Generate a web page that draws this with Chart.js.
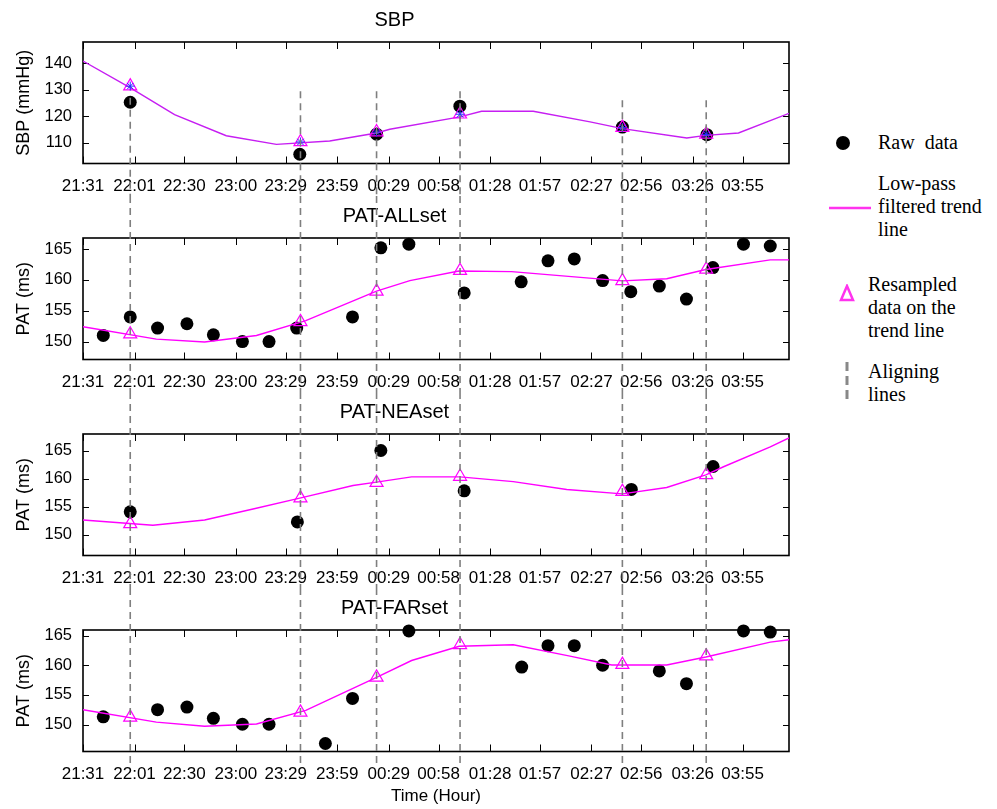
<!DOCTYPE html>
<html>
<head>
<meta charset="utf-8">
<script src="https://cdn.jsdelivr.net/npm/chart.js@4/dist/chart.umd.min.js"></script>
<style>
  body { margin: 0; background: #fff; }
  #wrap { position: relative; width: 997px; height: 809px; overflow: hidden; }
  canvas { position: absolute; left: 0; }
  #legend { position: absolute; left: 0; top: 0; font-family: 'Liberation Serif', 'Times New Roman', serif; font-size: 20px; color: #000; }
  #legend .txt { position: absolute; line-height: 23px; white-space: pre; }
  #legend svg { position: absolute; }
</style>
</head>
<body>
<div id="wrap">
  <canvas id="c1" width="800" height="196" style="top:0"></canvas>
  <canvas id="c2" width="800" height="196" style="top:196px"></canvas>
  <canvas id="c3" width="800" height="196" style="top:392px"></canvas>
  <canvas id="c4" width="800" height="221" style="top:588px"></canvas>
  <div id="legend">
    <svg style="left:835px;top:135px" width="16" height="16"><circle cx="8" cy="8" r="7" fill="#000"/></svg>
    <div class="txt" style="left:878px;top:131px">Raw  data</div>
    <svg style="left:829px;top:206px" width="42" height="4"><line x1="0" y1="2" x2="42" y2="2" stroke="#ff33ee" stroke-width="2.5"/></svg>
    <div class="txt" style="left:878px;top:172px">Low-pass
filtered trend
line</div>
    <svg style="left:838px;top:284px" width="18" height="18"><polygon points="9,2 15,16 3,16" fill="none" stroke="#ff33ee" stroke-width="2.5"/></svg>
    <div class="txt" style="left:868px;top:273px">Resampled
data on the
trend line</div>
    <svg style="left:843px;top:360px" width="8" height="42"><line x1="4" y1="2" x2="4" y2="40" stroke="#888" stroke-width="3" stroke-dasharray="9,5"/></svg>
    <div class="txt" style="left:868px;top:360px">Aligning
lines</div>
  </div>
</div>
<script>
// x values are minutes after 21:31
const tickMinutes = [0, 30, 59, 89, 118, 148, 178, 207, 237, 266, 296, 325, 355, 384];
const tickLabels = ['21:31','22:01','22:30','23:00','23:29','23:59','00:29','00:58','01:28','01:57','02:27','02:56','03:26','03:55'];
const alignMinutes = [27.5, 126.6, 170.9, 219.5, 314, 362.8];
const alignTopSbp = [127, 129.5, 129.5, 129.5, 126, 126];

// SBP
const sbpRawX = [27.5, 126.2, 170.9, 219.4, 314, 363.2];
const sbpRawY = [125.3, 105.6, 113.2, 123.8, 115.9, 113.0];
const sbpTrendX = [0, 27.1, 53.3, 83.4, 112.6, 143.6, 170.9, 178.6, 219.4, 232, 262.1, 295.2, 314, 351.5, 362.6, 381.6, 411];
const sbpTrendY = [140.9, 130.9, 120.6, 112.6, 109.35, 110.6, 113.65, 115.05, 119.75, 121.9, 121.9, 117.85, 115.3, 111.75, 112.75, 113.65, 121.1];
const sbpResY = [131.4, 110.25, 114.0, 120.75, 115.7, 113.15];

// PAT-ALLset
const allRawX = [11.8, 27.5, 43.4, 60.5, 75.9, 92.8, 108.3, 124.4, 156.9, 173.4, 189.7, 221.9, 255.1, 270.7, 286.0, 302.5, 318.9, 335.5, 351.3, 366.7, 384.5, 400.1];
const allRawY = [151.0, 154.0, 152.2, 152.9, 151.1, 150.0, 150.0, 152.2, 154.0, 165.2, 165.8, 157.9, 159.7, 163.1, 163.4, 159.9, 158.1, 159.0, 156.9, 162.0, 165.8, 165.5];
const allTrendX = [0, 42.7, 70.8, 101, 129.7, 170.9, 190.3, 218.8, 249.5, 314, 339.8, 362.6, 400.1, 411];
const allTrendY = [152.4, 150.4, 149.95, 151.0, 153.4, 158.2, 159.9, 161.45, 161.35, 159.85, 160.2, 161.7, 163.25, 163.25];
const allResY = [151.2, 153.2, 158.15, 161.5, 159.85, 161.7];

// PAT-NEAset
const neaRawX = [27.5, 124.8, 173.4, 221.9, 319.2, 366.8];
const neaRawY = [154.1, 152.3, 165.05, 157.85, 158.1, 162.2];
const neaTrendX = [0, 40.7, 70.8, 99, 126.2, 157.2, 170.9, 191.3, 219.4, 250.5, 281.6, 314, 339.8, 362.6, 372.9, 400.1, 411];
const neaTrendY = [152.65, 151.7, 152.65, 154.6, 156.55, 158.8, 159.4, 160.35, 160.35, 159.5, 158.1, 157.3, 158.45, 160.7, 162.15, 165.7, 167.3];
const neaResY = [151.95, 156.55, 159.3, 160.4, 157.7, 160.7];

// PAT-FARset
const farRawX = [11.8, 43.4, 60.5, 75.9, 92.8, 108.3, 141.1, 156.9, 189.7, 255.4, 270.7, 286, 302.5, 335.5, 351.3, 384.5, 400.1];
const farRawY = [151.3, 152.5, 152.95, 151.05, 150.05, 150.05, 146.8, 154.4, 165.8, 159.7, 163.3, 163.3, 160.0, 159.05, 156.9, 165.8, 165.6];
const farTrendX = [0, 42.7, 70.8, 101, 129.7, 170.9, 191.3, 219, 250.5, 283.5, 307.8, 339.8, 362.6, 400.1, 411];
const farTrendY = [152.5, 150.4, 149.7, 150.1, 152.4, 157.95, 160.8, 163.2, 163.45, 161.55, 160.05, 160.05, 161.4, 163.9, 164.3];
const farResY = [151.2, 152.05, 157.95, 163.45, 160.1, 161.55];

const sbpTicks = [110, 120, 130, 140];
const patTicks = [150, 155, 160, 165];

Chart.defaults.font.family = "'Liberation Sans', Arial, sans-serif";
Chart.defaults.color = '#000';

const zip = (xs, ys) => xs.map((x, i) => ({x, y: ys[i]}));

// inward ticks and box frame, like the gnuplot look
const frameTicks = {
  id: 'frameTicks',
  beforeDatasetsDraw(chart){
    const {ctx, chartArea: a, scales: {x, y}} = chart;
    ctx.save();
    ctx.strokeStyle = '#000';
    ctx.lineWidth = 1;
    ctx.beginPath();
    x.ticks.forEach(t => {
      const px = Math.round(x.getPixelForValue(t.value)) + 0.5;
      ctx.moveTo(px, a.bottom); ctx.lineTo(px, a.bottom - 7);
      ctx.moveTo(px, a.top); ctx.lineTo(px, a.top + 7);
    });
    y.ticks.forEach(t => {
      const py = Math.round(y.getPixelForValue(t.value)) + 0.5;
      ctx.moveTo(a.left, py); ctx.lineTo(a.left + 6, py);
      ctx.moveTo(a.right, py); ctx.lineTo(a.right - 6, py);
    });
    ctx.stroke();
    ctx.lineWidth = 1.6;
    ctx.strokeRect(a.left, a.top, a.right - a.left, a.bottom - a.top);
    ctx.restore();
  }
};

function alignPlugin(tops, extend){
  return {
    id: 'alignLines',
    afterDatasetsDraw(chart){
      const {ctx, chartArea: a, scales: {x, y}} = chart;
      ctx.save();
      ctx.strokeStyle = '#7f7f7f';
      ctx.lineWidth = 1.6;
      ctx.setLineDash([7, 5]);
      alignMinutes.forEach((m, i) => {
        const px = x.getPixelForValue(m);
        const top = tops ? y.getPixelForValue(tops[i]) : 0;
        const bottom = extend != null ? a.bottom + extend : chart.height;
        ctx.beginPath();
        ctx.moveTo(px, top);
        ctx.lineTo(px, bottom);
        ctx.stroke();
      });
      ctx.restore();
    }
  };
}

function makePanel(id, p){
  const canvas = document.getElementById(id);
  const axisH = canvas.height - 163.5;
  const datasets = [
    { data: zip(p.rawX, p.rawY), pointRadius: 6.5, pointBackgroundColor: '#000', pointBorderWidth: 0, clip: false, order: 4 },
    { data: zip(p.trendX, p.trendY), showLine: true, borderColor: p.lineColor, borderWidth: 1.4, pointRadius: 0, tension: 0, order: 3 },
    { data: zip(alignMinutes, p.resY), pointStyle: 'triangle', pointRadius: 7.5, pointBorderColor: '#ff00ff', pointBorderWidth: 1.2, pointBackgroundColor: 'rgba(0,0,0,0)', clip: false, order: 2 }
  ];
  if (p.stars) {
    datasets.push({ data: zip(alignMinutes, p.resY), pointStyle: 'star', pointRadius: 4.5, pointBorderColor: '#2233ff', pointBorderWidth: 1, order: 1 });
  }
  return new Chart(canvas, {
    type: 'scatter',
    data: { datasets },
    options: {
      responsive: false,
      animation: false,
      layout: { padding: { left: 0, right: 11, top: 0, bottom: 0 } },
      plugins: {
        legend: { display: false },
        tooltip: { enabled: false },
        title: { display: true, text: p.title, font: { size: 20, weight: 'normal' }, padding: { top: 8, bottom: 10 } }
      },
      scales: {
        x: {
          type: 'linear', min: 0, max: 411,
          grid: { display: false }, border: { display: false },
          afterBuildTicks: s => { s.ticks = tickMinutes.map(v => ({value: v})); },
          afterFit: s => { s.height = axisH; },
          ticks: { autoSkip: false, maxRotation: 0, padding: 5, font: { size: 17 },
                   callback: (v, i) => tickLabels[i] },
          title: { display: !!p.xTitle, text: p.xTitle || '', font: { size: 17 }, padding: { top: 0, bottom: 2 } }
        },
        y: {
          min: p.yMin, max: p.yMax,
          grid: { display: false }, border: { display: false },
          afterBuildTicks: s => { s.ticks = p.yTicks.map(v => ({value: v})); },
          afterFit: s => { s.width = 83; },
          ticks: { padding: 3, font: { size: 16.5 } },
          title: { display: true, text: p.yTitle, font: { size: 18 }, padding: { top: 13, bottom: 0 } }
        }
      }
    },
    plugins: [frameTicks, alignPlugin(p.alignTops, p.alignExtend)]
  });
}

makePanel('c1', { title: 'SBP', yTitle: 'SBP (mmHg)', yMin: 102.1, yMax: 148.1, yTicks: sbpTicks,
  rawX: sbpRawX, rawY: sbpRawY, trendX: sbpTrendX, trendY: sbpTrendY, resY: sbpResY,
  lineColor: '#c61ef2', stars: true, alignTops: alignTopSbp });
makePanel('c2', { title: 'PAT-ALLset', yTitle: 'PAT (ms)', yMin: 147.1, yMax: 166.8, yTicks: patTicks,
  rawX: allRawX, rawY: allRawY, trendX: allTrendX, trendY: allTrendY, resY: allResY, lineColor: '#ff00ff' });
makePanel('c3', { title: 'PAT-NEAset', yTitle: 'PAT (ms)', yMin: 146.3, yMax: 168.0, yTicks: patTicks,
  rawX: neaRawX, rawY: neaRawY, trendX: neaTrendX, trendY: neaTrendY, resY: neaResY, lineColor: '#ff00ff' });
makePanel('c4', { title: 'PAT-FARset', yTitle: 'PAT (ms)', yMin: 145.45, yMax: 165.95, yTicks: patTicks,
  rawX: farRawX, rawY: farRawY, trendX: farTrendX, trendY: farTrendY, resY: farResY, lineColor: '#ff00ff',
  xTitle: 'Time (Hour)', alignExtend: 16 });
</script>
</body>
</html>
